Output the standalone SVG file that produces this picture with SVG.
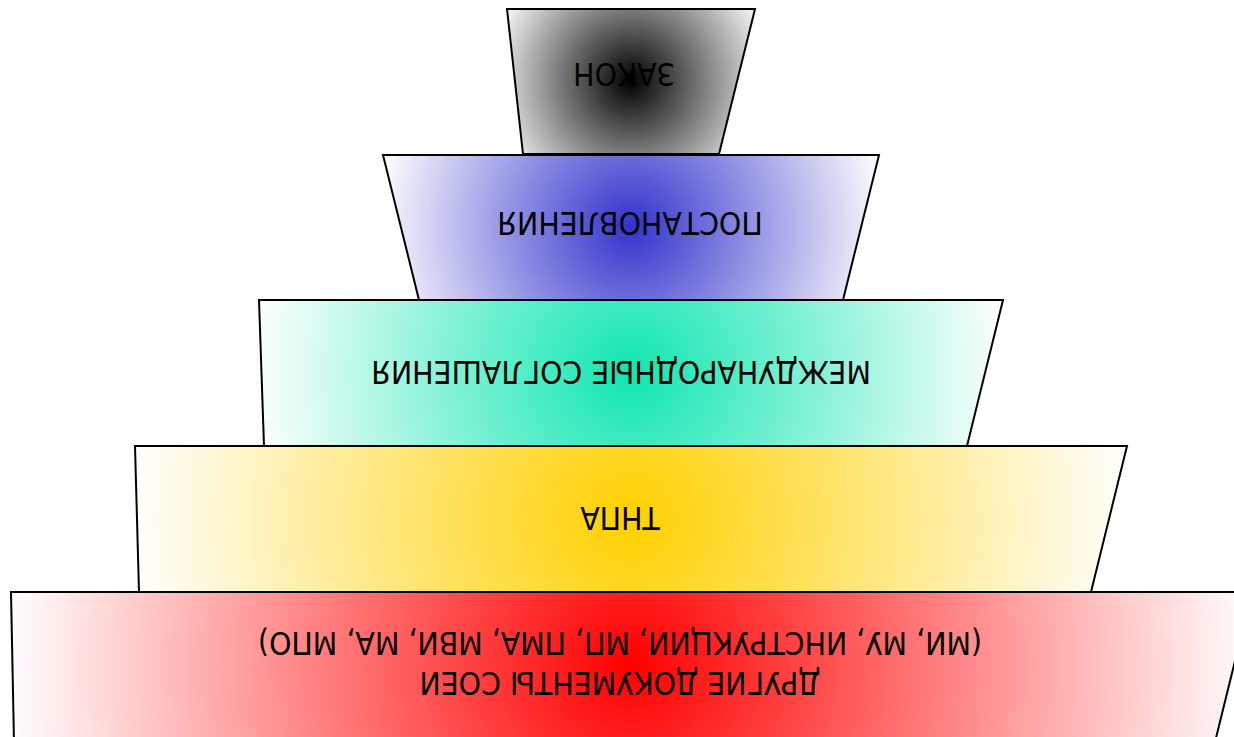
<svg xmlns="http://www.w3.org/2000/svg" width="1234" height="737" viewBox="0 0 1234 737">
<style>
.shape{stroke:#000;stroke-width:2;stroke-linejoin:miter}
.lbl{font-family:"DejaVu Sans Condensed","DejaVu Sans",sans-serif;font-stretch:condensed;font-size:31.6px;fill:#000;text-anchor:middle}
</style>
<defs>
<radialGradient id="gZakon" gradientUnits="userSpaceOnUse" cx="631" cy="81" r="148">
<stop offset="0" stop-color="#000"/><stop offset="1" stop-color="#fff"/>
</radialGradient>
<radialGradient id="gPost" gradientUnits="userSpaceOnUse" cx="631" cy="227" r="258">
<stop offset="0" stop-color="#3333cc"/><stop offset="1" stop-color="#fff"/>
</radialGradient>
<radialGradient id="gMezh" gradientUnits="userSpaceOnUse" cx="631" cy="373" r="379">
<stop offset="0" stop-color="#10e6b0"/><stop offset="1" stop-color="#fff"/>
</radialGradient>
<radialGradient id="gTnpa" gradientUnits="userSpaceOnUse" cx="631" cy="519" r="501">
<stop offset="0" stop-color="#ffd000"/><stop offset="1" stop-color="#fff"/>
</radialGradient>
<radialGradient id="gDrug" gradientUnits="userSpaceOnUse" cx="631" cy="665" r="625">
<stop offset="0" stop-color="#ff0000"/><stop offset="1" stop-color="#fff"/>
</radialGradient>
</defs>
<rect width="1234" height="737" fill="#fff"/>
<g id="connectors"/>
<g id="node-drugie">
<polygon class="shape" points="11,592 1252,592 1215,742 14,742" fill="url(#gDrug)"/>
<g transform="rotate(180 620 663)">
<text class="lbl" x="620" y="654.5">ДРУГИЕ ДОКУМЕНТЫ СОЕИ</text>
<text class="lbl" x="620" y="694.5">(МИ, МУ, ИНСТРУКЦИИ, МП, ПМА, МВИ, МА, МПО)</text>
</g>
</g>
<g id="node-tnpa">
<polygon class="shape" points="135,446 1127,446 1091,592 139,592" fill="url(#gTnpa)"/>
<text class="lbl" x="620" y="529.5" transform="rotate(180 620 518)">ТНПА</text>
</g>
<g id="node-mezhd">
<polygon class="shape" points="259,300 1003,300 967,446 264,446" fill="url(#gMezh)"/>
<text class="lbl" x="621" y="383.5" transform="rotate(180 621 372)">МЕЖДУНАРОДНЫЕ СОГЛАШЕНИЯ</text>
</g>
<g id="node-post">
<polygon class="shape" points="383,155 879,155 843,300 419,300" fill="url(#gPost)"/>
<text class="lbl" x="630" y="234.5" transform="rotate(180 630 223)">ПОСТАНОВЛЕНИЯ</text>
</g>
<g id="node-zakon">
<polygon class="shape" points="507,9 755,9 719,154 523,154" fill="url(#gZakon)"/>
<text class="lbl" x="624" y="85.5" transform="rotate(180 624 74)">ЗАКОН</text>
</g>
</svg>
